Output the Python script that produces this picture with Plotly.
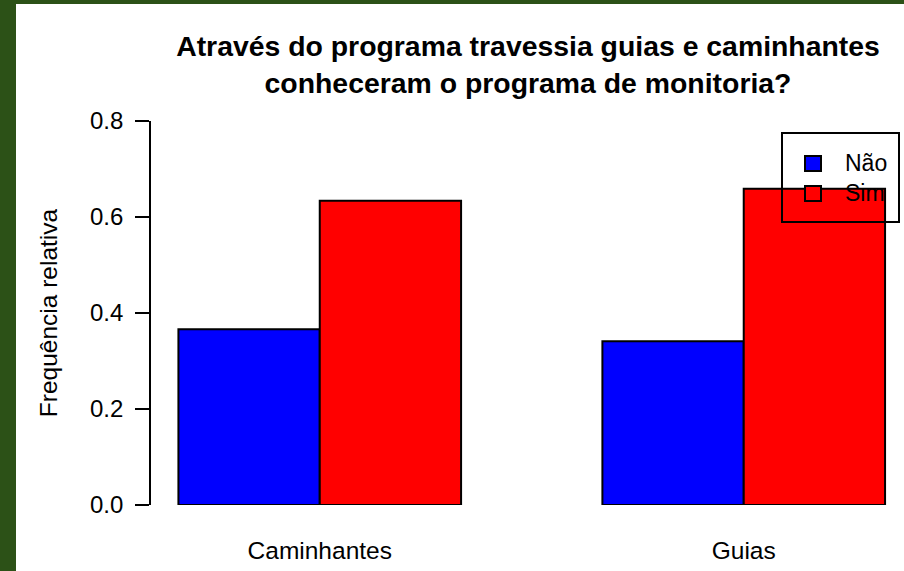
import plotly.graph_objects as go

# data
groups = ["Caminhantes", "Guias"]
nao = [0.366, 0.341]
sim = [0.634, 0.659]
series_names = ["Não", "Sim"]
series_colors = ["#0000ff", "#ff0000"]
ytick_vals = [0.0, 0.2, 0.4, 0.6, 0.8]

W, H = 904, 571
# plot area in pixels (R-style region)
L, R_, T, B = 151, 904, 121, 505
pw, ph = R_ - L, B - T


def px_x(p):
    return (p - L) / pw


def px_y(p):
    return (B - p) / ph


font = "Liberation Sans, Arial, sans-serif"

fig = go.Figure()
for name, vals, col in zip(series_names, [nao, sim], series_colors):
    fig.add_trace(go.Bar(
        x=groups, y=vals, name=name, showlegend=False,
        marker=dict(color=col, line=dict(color="black", width=2)),
    ))

# R-style legend: transparent box drawn over the bars
shapes = [
    # white page with green strip on the left and top
    dict(type="rect", xref="paper", yref="paper", layer="below",
         x0=px_x(16), x1=px_x(W + 5), y0=px_y(H + 5), y1=px_y(4),
         fillcolor="white", line=dict(width=0)),
    dict(type="rect", xref="paper", yref="paper", layer="above",
         x0=px_x(782), x1=px_x(899), y0=px_y(222), y1=px_y(133),
         line=dict(color="black", width=2), fillcolor="rgba(0,0,0,0)"),
]
annotations = []
for i, (name, col) in enumerate(zip(series_names, series_colors)):
    cy = 163 + 30 * i
    shapes.append(dict(
        type="rect", xref="paper", yref="paper", layer="above",
        x0=px_x(805), x1=px_x(821), y0=px_y(cy + 8), y1=px_y(cy - 7),
        fillcolor=col, line=dict(color="black", width=2),
    ))
    annotations.append(dict(
        text=name, xref="paper", yref="paper", x=px_x(843), y=px_y(cy),
        xanchor="left", yanchor="middle", showarrow=False,
        font=dict(size=23, family=font, color="black"),
    ))

fig.update_layout(
    width=W, height=H,
    margin=dict(l=L, r=W - R_, t=T, b=H - B, pad=0),
    paper_bgcolor="#2c5117",
    plot_bgcolor="white",
    barmode="group", bargap=1 / 3, bargroupgap=0,
    font=dict(family=font, size=24, color="black"),
    title=dict(
        text="<b>Através do programa travessia guias e caminhantes<br>conheceram o programa de monitoria?</b>",
        font=dict(size=28.4, family=font, color="black"),
        x=px_x(528), xref="paper", xanchor="center",
        y=1 - 56 / H, yref="container", yanchor="top",
    ),
    showlegend=False,
    shapes=shapes,
    annotations=annotations,
)

fig.update_xaxes(
    range=[-0.398, 1.378], showgrid=False, zeroline=False, showline=False,
    ticks="", ticklabelstandoff=28, tickfont=dict(size=24.5),
)
fig.update_yaxes(
    range=[0, 0.8], tickvals=ytick_vals, tickformat=".1f",
    showgrid=False, zeroline=False, showline=True, linecolor="black", linewidth=1.8,
    ticks="outside", ticklen=14, tickwidth=1.8, tickcolor="black",
    ticklabelstandoff=7, tickfont=dict(size=24),
    title=dict(text="Frequência relativa", font=dict(size=24.5), standoff=25),
)

# drop the page's default body margin so the figure sits at the window corner
fig.write_html(
    "out.html",
    config={"displayModeBar": False},
    post_script="document.body.style.margin='0';document.body.style.overflow='hidden';",
)
